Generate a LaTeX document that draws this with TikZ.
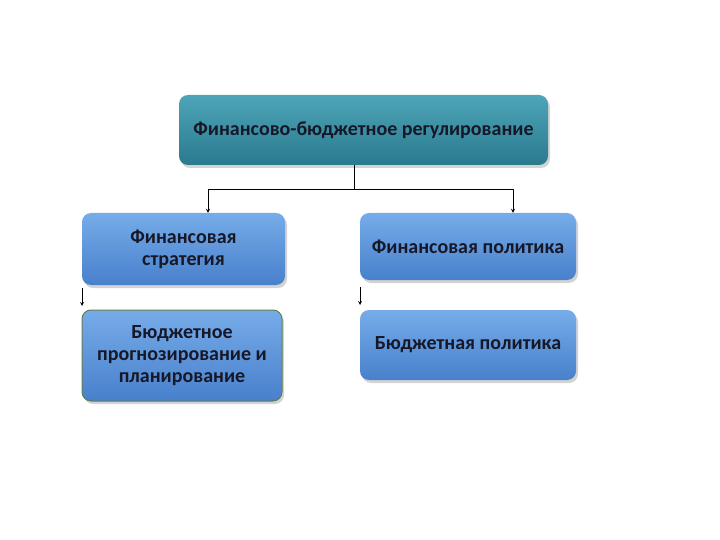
\documentclass[tikz,border=0pt]{standalone}
\usepackage{fontspec}
\setmainfont{Carlito}
\usetikzlibrary{shadows}
\definecolor{tealtop}{RGB}{78,164,184}
\definecolor{tealbot}{RGB}{42,122,142}
\definecolor{bluetop}{RGB}{118,172,232}
\definecolor{bluebot}{RGB}{72,128,204}
\definecolor{txtdark}{RGB}{22,24,40}
\definecolor{greenedge}{RGB}{96,128,84}
\begin{document}
\begin{tikzpicture}[x=1pt, y=-1pt, font=\bfseries\fontsize{20}{22}\selectfont, line join=round, >=stealth,
 box/.style={rounded corners=9pt, draw=none, text=txtdark, align=center,
   top color=bluetop, bottom color=bluebot, drop shadow={opacity=0.35, shadow xshift=2pt, shadow yshift=-3pt}},
 headbox/.style={box, top color=tealtop, bottom color=tealbot},
 link/.style={->, thick, black}]
 \useasboundingbox (0,0) rectangle (720,540);
 % boxes
 \node[headbox, minimum width=369pt, minimum height=70pt] (reg) at (363.5,130) {Финансово-бюджетное регулирование};
 \node[box, minimum width=203pt, minimum height=72pt] (strat) at (183.5,249) {Финансовая\\стратегия};
 \node[box, minimum width=216pt, minimum height=67pt] (fpol) at (468,246.5) {Финансовая политика};
 \node[box, draw=greenedge, line width=1pt, minimum width=200pt, minimum height=91pt] (plan) at (182,355.5) {Бюджетное\\прогнозирование и\\планирование};
 \node[box, minimum width=216pt, minimum height=70pt] (bpol) at (468,345) {Бюджетная политика};
 % connectors
 \coordinate (fork) at (354,189);
 \draw[thick] ([xshift=-9.5pt]reg.south) -- (fork);
 \draw[link] (fork) -| ([xshift=24.5pt]strat.north);
 \draw[link] (fork) -| ([xshift=45pt]fpol.north);
 \coordinate (s1) at (82,288); \coordinate (e1) at (82,306);
 \coordinate (s2) at (360,287); \coordinate (e2) at (360,305);
 \draw[link] (s1) -- (e1);
 \draw[link] (s2) -- (e2);
\end{tikzpicture}
\end{document}
